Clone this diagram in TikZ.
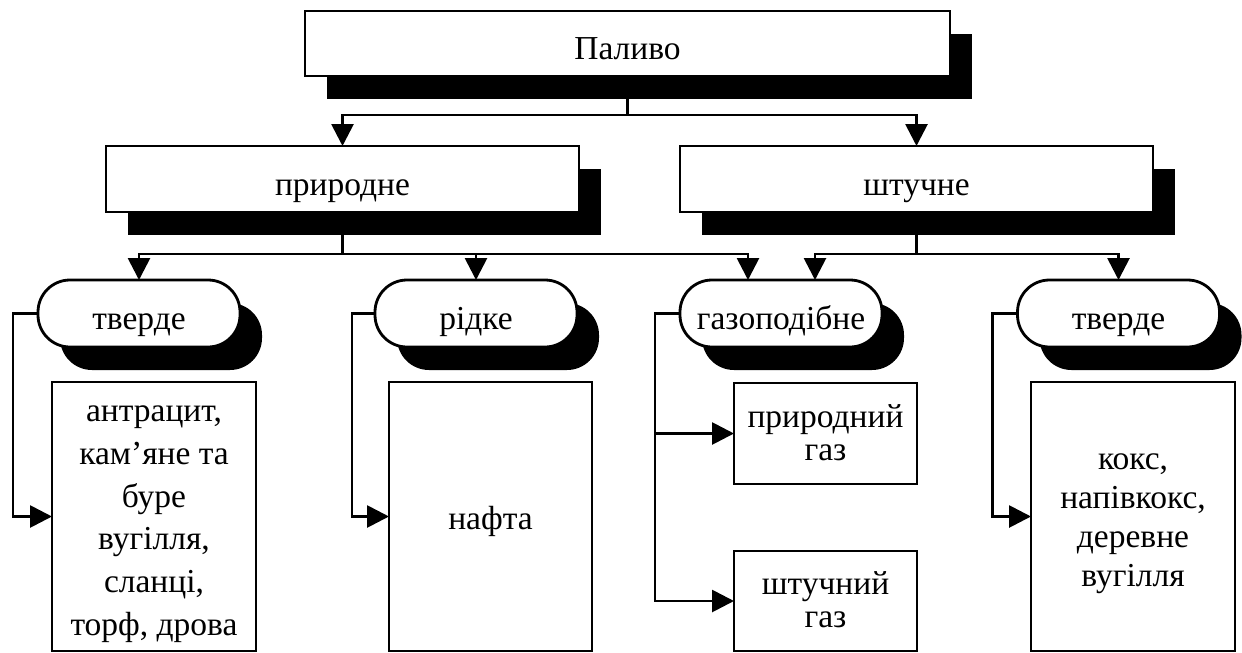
\documentclass[tikz,border=0pt]{standalone}
\usepackage{fontspec}
\setmainfont{Liberation Serif}
\usetikzlibrary{arrows.meta,shadows}
\begin{document}
\begin{tikzpicture}[x=1pt,y=-1pt,
  every node/.style={inner sep=0pt,outer sep=0pt,font=\fontsize{33.5}{40}\selectfont},
  conn/.style={line width=2.8pt},
  arr/.style={conn,-{Triangle[length=22pt,width=22pt]}},
  shad/.style={drop shadow={shadow xshift=22pt,shadow yshift=-23pt,fill=black,opacity=1}},
  oneline/.style={text height=39pt,text depth=7pt},
  topbox/.style={draw,line width=2.8pt,fill=white,shad,oneline,minimum height=66pt},
  pill/.style={draw,line width=2.8pt,fill=white,shad,oneline,rounded corners=32pt,minimum width=202pt,minimum height=67pt},
  leaf/.style={draw,line width=2.8pt,fill=white,align=center}
]
\useasboundingbox (0,0) rectangle (1242,653);
\node[topbox,minimum width=645pt,minimum height=65pt] (fuel) at (627.5,43.5) {Паливо};
\node[topbox,minimum width=473pt] (nat) at (342.5,179) {природне};
\node[topbox,minimum width=473pt] (art) at (916.5,179) {штучне};
\node[pill] (s1) at (139,313.5) {тверде};
\node[pill] (l1) at (476,313.5) {рідке};
\node[pill] (g1) at (781,313.5) {газоподібне};
\node[pill] (s2) at (1118.5,313.5) {тверде};
\node[leaf,minimum width=204pt,minimum height=269pt,font=\fontsize{33.5}{42.8}\selectfont] (b1) at (154,516.5) {\rule{0pt}{37pt}антрацит,\\кам’яне та\\буре\\вугілля,\\сланці,\\торф, дрова\strut};
\node[leaf,text height=32pt,text depth=7pt,minimum width=203pt,minimum height=269pt] (b2) at (490.5,516.5) {нафта};
\node[leaf,minimum width=183pt,minimum height=101pt,font=\fontsize{33.5}{33}\selectfont] (b3) at (825.5,433.5) {\rule{0pt}{30pt}природний\\газ\strut};
\node[leaf,minimum width=183pt,minimum height=100pt,font=\fontsize{33.5}{33}\selectfont] (b4) at (825.5,601) {\rule{0pt}{30pt}штучний\\газ\strut};
\node[leaf,minimum width=204pt,minimum height=269pt,font=\fontsize{33.5}{39}\selectfont] (b5) at (1133,516.5) {\rule{0pt}{34pt}кокс,\\напівкокс,\\деревне\\вугілля\strut};
\coordinate (j0) at (627.5,115);
\draw[conn] (fuel.south) -- (j0);
\draw[arr] (j0) -| (nat.north);
\draw[arr] (j0) -| (art.north);
\coordinate (j1) at (342.5,254);
\draw[conn] (nat.south) -- (j1);
\draw[arr] (j1) -| (s1.north);
\draw[arr] (j1) -| (l1.north);
\draw[arr] (j1) -| ([xshift=-33pt]g1.north);
\coordinate (j2) at (916.5,254);
\draw[conn] (art.south) -- (j2);
\draw[arr] (j2) -| ([xshift=34pt]g1.north);
\draw[arr] (j2) -| (s2.north);
\draw[arr] (s1.west) -- ++(-25,0) |- (b1.west);
\draw[arr] (l1.west) -- ++(-23,0) |- (b2.west);
\draw[arr] (g1.west) -- ++(-25,0) |- (b3.west);
\draw[arr] (g1.west) -- ++(-25,0) |- (b4.west);
\draw[arr] (s2.west) -- ++(-25,0) |- (b5.west);
\end{tikzpicture}
\end{document}
